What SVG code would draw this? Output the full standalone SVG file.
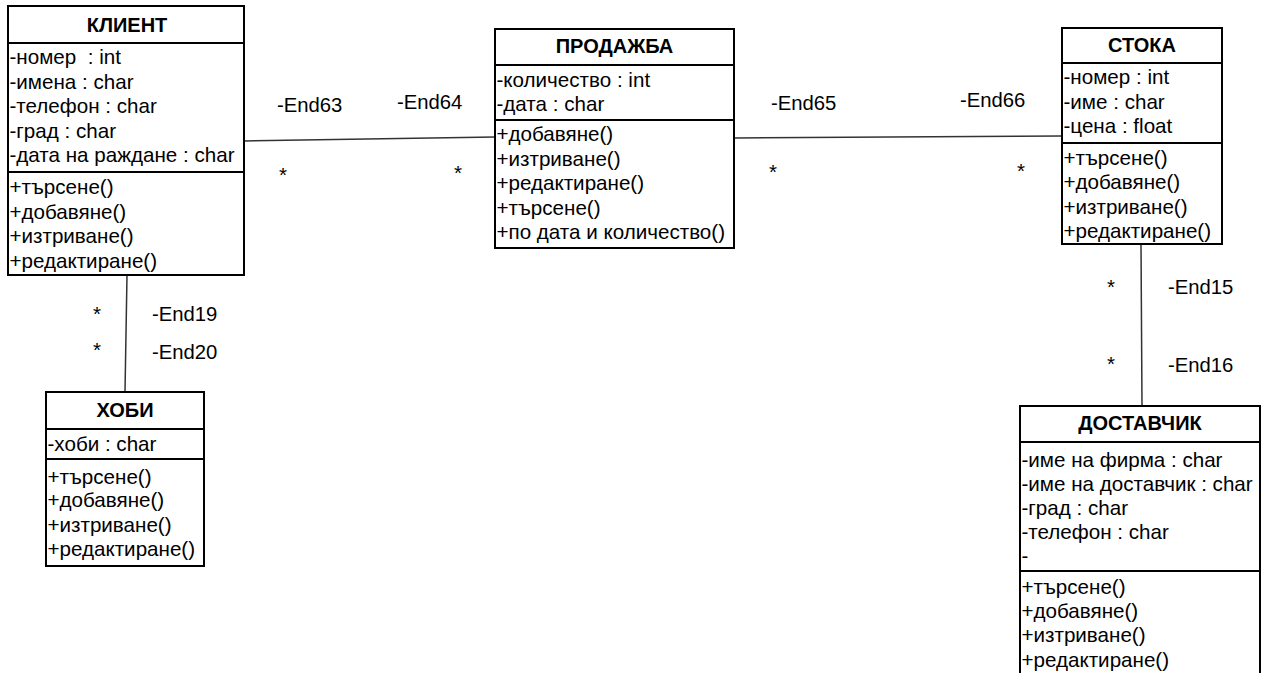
<svg xmlns="http://www.w3.org/2000/svg" width="1266" height="673" viewBox="0 0 1266 673">
<style>
.box{fill:#fff;stroke:#000;stroke-width:2}
.sep{stroke:#000;stroke-width:2}
.conn{stroke:#333;stroke-width:1.5;fill:none}
text{font-family:"Liberation Sans",Arial,sans-serif;font-size:20.6px;fill:#000}
.t{font-weight:bold;text-anchor:middle;font-size:20px}
.m{text-anchor:middle}
.l{font-size:20.3px}
</style>
<rect width="1266" height="673" fill="#fff"/>
<g id="connectors">
<line class="conn" x1="244" y1="141" x2="495" y2="137"/>
<line class="conn" x1="734" y1="138" x2="1062" y2="136"/>
<line class="conn" x1="127" y1="275" x2="125" y2="392"/>
<line class="conn" x1="1141" y1="244" x2="1142" y2="406"/>
<text class="l" x="277" y="112">-End63</text>
<text class="l" x="397" y="109">-End64</text>
<text class="m" x="283" y="182">*</text>
<text class="m" x="458" y="180">*</text>
<text class="l" x="771" y="110">-End65</text>
<text class="l" x="960" y="107">-End66</text>
<text class="m" x="773" y="179">*</text>
<text class="m" x="1021" y="178">*</text>
<text class="m" x="97" y="321">*</text>
<text class="m" x="97" y="357">*</text>
<text class="l" x="152" y="321">-End19</text>
<text class="l" x="152" y="359">-End20</text>
<text class="m" x="1111" y="294">*</text>
<text class="m" x="1111" y="371">*</text>
<text class="l" x="1168" y="294">-End15</text>
<text class="l" x="1168" y="372">-End16</text>
</g>
<g id="klient">
<rect class="box" x="8" y="6" width="236" height="269"/>
<line class="sep" x1="8" y1="43" x2="244" y2="43"/>
<line class="sep" x1="8" y1="172" x2="244" y2="172"/>
<text class="t" x="127" y="32">КЛИЕНТ</text>
<text x="9.5" y="64">-номер&#160; : int</text>
<text x="9.5" y="88.5">-имена : char</text>
<text x="9.5" y="113">-телефон : char</text>
<text x="9.5" y="137.5">-град : char</text>
<text x="9.5" y="162">-дата на раждане : char</text>
<text x="9.5" y="194">+търсене()</text>
<text x="9.5" y="218.5">+добавяне()</text>
<text x="9.5" y="243">+изтриване()</text>
<text x="9.5" y="267.5">+редактиране()</text>
</g>
<g id="prodazhba">
<rect class="box" x="495" y="29" width="239" height="219"/>
<line class="sep" x1="495" y1="65" x2="734" y2="65"/>
<line class="sep" x1="495" y1="120" x2="734" y2="120"/>
<text class="t" x="614.5" y="53">ПРОДАЖБА</text>
<text x="496.5" y="86.5">-количество : int</text>
<text x="496.5" y="111">-дата : char</text>
<text x="496.5" y="141">+добавяне()</text>
<text x="496.5" y="165.5">+изтриване()</text>
<text x="496.5" y="190">+редактиране()</text>
<text x="496.5" y="214.5">+търсене()</text>
<text x="496.5" y="239">+по дата и количество()</text>
</g>
<g id="stoka">
<rect class="box" x="1062" y="28" width="160" height="216"/>
<line class="sep" x1="1062" y1="63" x2="1222" y2="63"/>
<line class="sep" x1="1062" y1="143" x2="1222" y2="143"/>
<text class="t" x="1142" y="52">СТОКА</text>
<text x="1063.5" y="84">-номер : int</text>
<text x="1063.5" y="108.5">-име : char</text>
<text x="1063.5" y="133">-цена : float</text>
<text x="1063.5" y="164.5">+търсене()</text>
<text x="1063.5" y="189">+добавяне()</text>
<text x="1063.5" y="213.5">+изтриване()</text>
<text x="1063.5" y="238">+редактиране()</text>
</g>
<g id="hobi">
<rect class="box" x="46" y="392" width="158" height="174"/>
<line class="sep" x1="46" y1="429" x2="204" y2="429"/>
<line class="sep" x1="46" y1="459" x2="204" y2="459"/>
<text class="t" x="125" y="417">ХОБИ</text>
<text x="47.5" y="451">-хоби : char</text>
<text x="47.5" y="483.5">+търсене()</text>
<text x="47.5" y="507">+добавяне()</text>
<text x="47.5" y="531.5">+изтриване()</text>
<text x="47.5" y="556">+редактиране()</text>
</g>
<g id="dostavchik">
<rect class="box" x="1020" y="406" width="240" height="280"/>
<line class="sep" x1="1020" y1="442" x2="1260" y2="442"/>
<line class="sep" x1="1020" y1="571" x2="1260" y2="571"/>
<text class="t" x="1140" y="430">ДОСТАВЧИК</text>
<text x="1021.5" y="466.5">-име на фирма : char</text>
<text x="1021.5" y="490.5">-име на доставчик : char</text>
<text x="1021.5" y="514.5">-град : char</text>
<text x="1021.5" y="538.5">-телефон : char</text>
<text x="1021.5" y="562.5">-</text>
<text x="1021.5" y="593.5">+търсене()</text>
<text x="1021.5" y="617.5">+добавяне()</text>
<text x="1021.5" y="642">+изтриване()</text>
<text x="1021.5" y="666.5">+редактиране()</text>
</g>
</svg>
